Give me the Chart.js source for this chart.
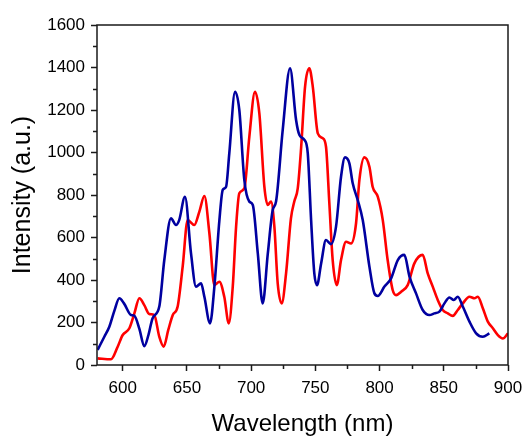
<!DOCTYPE html>
<html>
<head>
<meta charset="utf-8">
<script src="https://cdn.jsdelivr.net/npm/chart.js@4/dist/chart.umd.min.js"></script>
<style>
  html, body { margin: 0; padding: 0; background: #fff; }
  #wrap { width: 523px; height: 439px; }
</style>
</head>
<body>
<div id="wrap"><canvas id="chart" width="523" height="439"></canvas></div>
<script>
// blue spectrum
const blueWavelength = [580.5, 585.7, 589.6, 593.5, 597.4, 601, 606.5, 609, 613, 616.8, 620, 623.3, 628.5, 632.4, 637.6, 641.5, 644, 648.5, 653.2, 657.1, 661, 663.6, 668, 671.4, 675.3, 677.9, 680.5, 683, 687.5, 690.8, 694.7, 698.6, 701.3, 705.2, 709, 713, 716.8, 719.4, 724.6, 730.3, 735, 737.6, 741.5, 744.1, 746.7, 749.2, 751.3, 754.5, 758.3, 762.2, 766.1, 770, 773.1, 776.5, 779.1, 783, 786.9, 792.1, 796, 798.6, 803.8, 809, 814.2, 819.3, 823.3, 828.4, 833.6, 838.8, 842.7, 846.6, 850.5, 854.4, 857.8, 860.9, 864.8, 870, 875.2, 880.4, 885.5];
const blueIntensity = [71, 133, 180, 255, 314, 290, 235, 232, 170, 88, 140, 220, 275, 494, 690, 659, 682, 792, 525, 369, 384, 321, 196, 369, 682, 824, 839, 996, 1286, 1200, 871, 769, 753, 525, 290, 525, 729, 769, 1106, 1396, 1153, 1082, 1059, 996, 682, 431, 376, 478, 588, 569, 651, 886, 977, 949, 855, 776, 682, 463, 337, 325, 369, 408, 494, 518, 416, 337, 259, 235, 243, 251, 290, 318, 306, 321, 275, 204, 149, 133, 149];

// red spectrum
const redWavelength = [580.5, 590.9, 596.1, 600, 605.2, 609.1, 613, 616.8, 620.7, 624.6, 628.5, 631.9, 635.5, 639, 642.8, 646.7, 650.6, 655.8, 659.7, 663.6, 667.5, 671.4, 675.3, 679.1, 682.6, 685.7, 688.3, 690.8, 694.7, 698.6, 703, 706.4, 710.3, 712.9, 715.5, 718.1, 720.7, 723.8, 727.2, 731, 733.6, 736.3, 738.9, 742, 745.3, 748, 751.9, 755.8, 758.3, 760.9, 763.5, 766.7, 770, 773.9, 777.8, 781.7, 784.3, 788.2, 792.1, 794.6, 798.6, 802.5, 806.3, 810.2, 812.9, 816.8, 821.9, 827.1, 833.6, 837.5, 841.4, 845.3, 849.2, 853.1, 857, 860.9, 864.8, 870, 873.9, 876.5, 880.4, 884.3, 888.2, 892.1, 896, 900];
const redIntensity = [31, 27, 86, 141, 173, 243, 314, 282, 240, 235, 133, 86, 165, 235, 275, 463, 682, 659, 722, 795, 620, 376, 392, 321, 196, 369, 651, 808, 831, 1074, 1286, 1184, 839, 753, 769, 651, 384, 290, 431, 690, 769, 831, 1020, 1310, 1396, 1310, 1090, 1067, 1027, 761, 494, 376, 494, 580, 572, 667, 871, 977, 933, 839, 792, 682, 494, 353, 329, 345, 376, 478, 518, 431, 369, 306, 259, 243, 231, 259, 290, 321, 314, 321, 267, 204, 173, 141, 125, 149];

const xTickValues = [600, 650, 700, 750, 800, 850, 900];
const xMinorTicks = [625, 675, 725, 775, 825, 875];
const yMinorTicks = [100, 300, 500, 700, 900, 1100, 1300, 1500];

const toPoints = (xs, ys) => xs.map((x, i) => ({ x: x, y: ys[i] }));

// frame around the plot + minor ticks
const framePlugin = {
    id: 'frame',
    afterDraw(chart) {
        const ctx = chart.ctx;
        const a = chart.chartArea;
        const xs = chart.scales.x;
        const ys = chart.scales.y;
        ctx.save();
        ctx.strokeStyle = '#1a1a1a';
        ctx.lineWidth = 1.5;
        ctx.strokeRect(a.left, a.top, a.right - a.left, a.bottom - a.top);
        ctx.beginPath();
        xMinorTicks.forEach(v => {
            let px = Math.round(xs.getPixelForValue(v)) + 0.5;
            ctx.moveTo(px, a.bottom);
            ctx.lineTo(px, a.bottom + 4);
        });
        yMinorTicks.forEach(v => {
            let py = Math.round(ys.getPixelForValue(v)) + 0.5;
            ctx.moveTo(a.left, py);
            ctx.lineTo(a.left - 4, py);
        });
        ctx.stroke();
        ctx.restore();
    }
};

const font = "'Liberation Sans', Arial, sans-serif";

const config = {
    type: 'line',
    data: {
        datasets: [{
            label: 'blue',
            data: toPoints(blueWavelength, blueIntensity),
            borderColor: '#0000a0',
            borderWidth: 2.6,
            pointRadius: 0,
            cubicInterpolationMode: 'monotone'
        }, {
            label: 'red',
            data: toPoints(redWavelength, redIntensity),
            borderColor: '#ff0000',
            borderWidth: 2.6,
            pointRadius: 0,
            cubicInterpolationMode: 'monotone'
        }]
    },
    options: {
        responsive: false,
        animation: false,
        events: [],
        layout: { padding: { top: 25, right: 15, left: 0, bottom: 0 } },
        plugins: { legend: { display: false }, tooltip: { enabled: false } },
        scales: {
            x: {
                type: 'linear',
                min: 580,
                max: 900,
                afterFit: s => { s.height = 74; s.paddingLeft = 0; s.paddingRight = 0; },
                afterBuildTicks: s => { s.ticks = xTickValues.map(v => ({ value: v })); },
                ticks: { color: '#000', padding: 7, maxRotation: 0, font: { family: font, size: 17 }, callback: v => String(v) },
                grid: { drawOnChartArea: false, tickLength: 6, tickColor: '#1a1a1a', tickWidth: 1.5 },
                border: { display: false },
                title: { display: true, text: 'Wavelength (nm)', color: '#000', padding: { top: 0, bottom: 0 }, font: { family: font, size: 24 } }
            },
            y: {
                min: 0,
                max: 1600,
                afterFit: s => { s.width = 97; s.paddingTop = 0; s.paddingBottom = 0; },
                ticks: { stepSize: 200, color: '#000', padding: 6, font: { family: font, size: 17 }, callback: v => String(v) },
                grid: { drawOnChartArea: false, tickLength: 6, tickColor: '#1a1a1a', tickWidth: 1.5 },
                border: { display: false },
                title: { display: true, text: 'Intensity (a.u.)', color: '#000', padding: { top: 8, bottom: 0 }, font: { family: font, size: 25 } }
            }
        }
    },
    plugins: [framePlugin]
};

let chart = new Chart(document.getElementById('chart'), config);
</script>
</body>
</html>
